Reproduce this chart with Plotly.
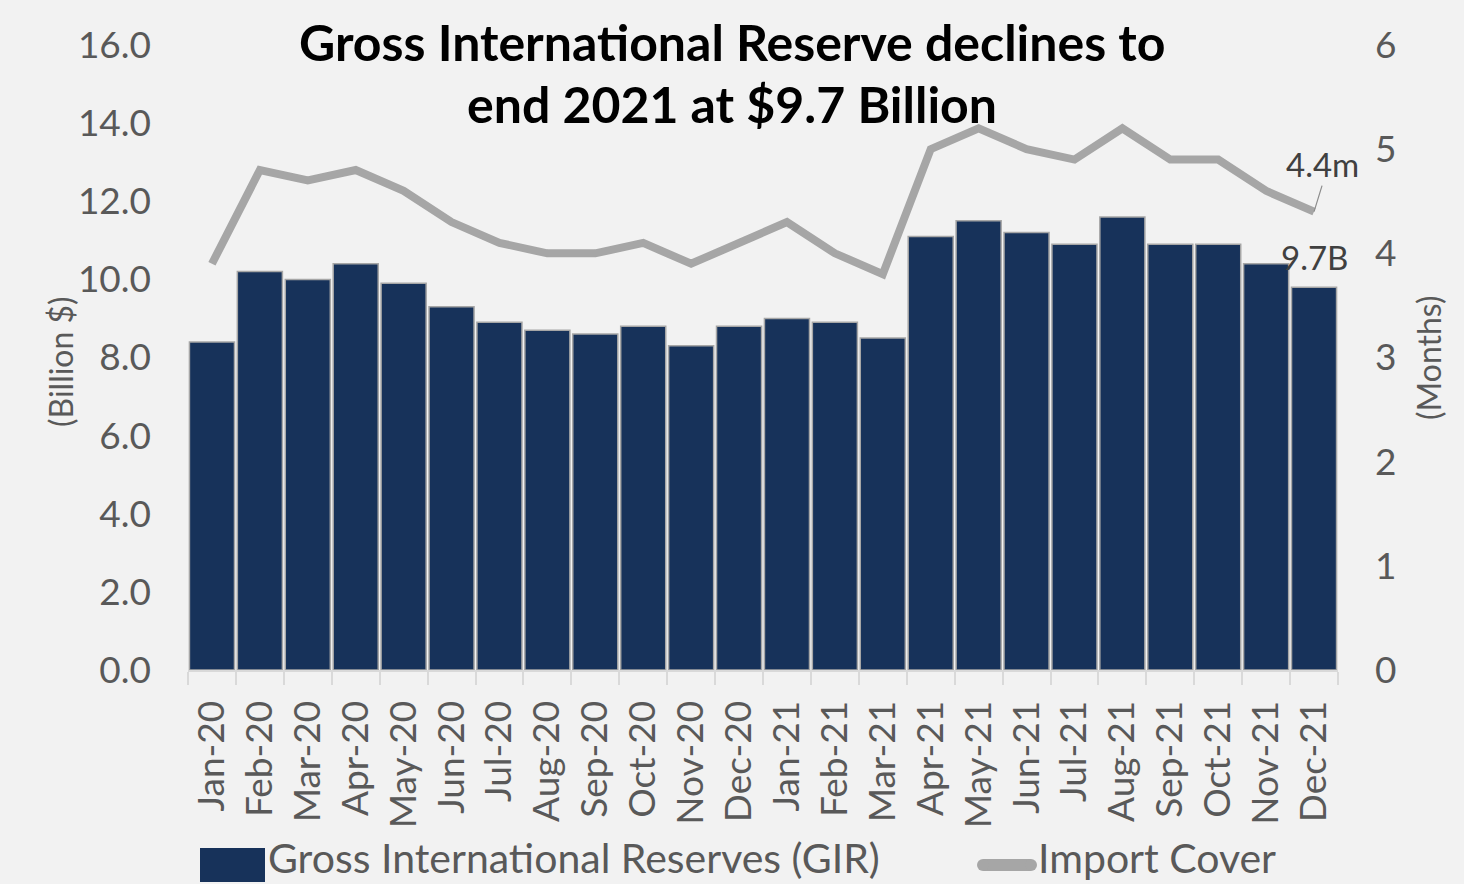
import plotly.graph_objects as go

months = ["Jan-20","Feb-20","Mar-20","Apr-20","May-20","Jun-20","Jul-20","Aug-20","Sep-20","Oct-20","Nov-20","Dec-20",
          "Jan-21","Feb-21","Mar-21","Apr-21","May-21","Jun-21","Jul-21","Aug-21","Sep-21","Oct-21","Nov-21","Dec-21"]
gir = [8.4,10.2,10.0,10.4,9.9,9.3,8.9,8.7,8.6,8.8,8.3,8.8,
       9.0,8.9,8.5,11.1,11.5,11.2,10.9,11.6,10.9,10.9,10.4,9.8]
cover = [3.9,4.8,4.7,4.8,4.6,4.3,4.1,4.0,4.0,4.1,3.9,4.1,
         4.3,4.0,3.8,5.0,5.2,5.0,4.9,5.2,4.9,4.9,4.6,4.4]
left_ticks = [0,2,4,6,8,10,12,14,16]
right_ticks = [0,1,2,3,4,5,6]
gir_name = "Gross International Reserves (GIR)"
cover_name = "Import Cover"

FONT = "Lato"
GREY = "#595959"
NAVY = "#17325A"
LGREY = "#A6A6A6"

# plot area: x 188..1338, y 45..670 (pixels)
L, R, T, B = 188, 1338, 45, 670
W, H = R - L, B - T
def px(x):
    return (x - L) / W
def py(y):
    return (B - y) / H

fig = go.Figure()
fig.add_trace(go.Bar(x=months, y=gir, name=gir_name,
                     marker=dict(color=NAVY, line=dict(color=LGREY, width=1.5)),
                     yaxis="y", showlegend=False))
fig.add_trace(go.Scatter(x=months, y=cover, name=cover_name, mode="lines",
                         line=dict(color=LGREY, width=8), yaxis="y2", showlegend=False))

# data labels
fig.add_annotation(x=months[-1], y=cover[-1], yref="y2", text="4.4m", showarrow=True,
                   arrowhead=0, arrowwidth=1.2, arrowcolor="#8C8C8C", ax=8, ay=-26,
                   xanchor="center", yanchor="bottom",
                   font=dict(family=FONT, size=33, color="#404040"))
fig.add_annotation(x=months[-1], y=gir[-1], text="9.7B", showarrow=False,
                   xshift=0, yshift=8, yanchor="bottom",
                   font=dict(family=FONT, size=33, color="#404040"))

# title
fig.add_annotation(xref="paper", yref="paper", x=px(732), y=py(42), text="<b>Gross International Reserve declines to</b>",
                   showarrow=False, xanchor="center", yanchor="middle",
                   font=dict(family=FONT, size=50, color="#000000"))
fig.add_annotation(xref="paper", yref="paper", x=px(732), y=py(104), text="<b>end 2021 at $9.7 Billion</b>",
                   showarrow=False, xanchor="center", yanchor="middle",
                   font=dict(family=FONT, size=50, color="#000000"))

# axis titles
fig.add_annotation(xref="paper", yref="paper", x=px(60), y=py(362), text="(Billion $)", textangle=-90,
                   showarrow=False, xanchor="center", yanchor="middle",
                   font=dict(family=FONT, size=32, color=GREY))
fig.add_annotation(xref="paper", yref="paper", x=px(1428), y=py(358), text="(Months)", textangle=-90,
                   showarrow=False, xanchor="center", yanchor="middle",
                   font=dict(family=FONT, size=32, color=GREY))

# legend (drawn)
fig.add_shape(type="rect", xref="paper", yref="paper", x0=px(200), x1=px(265), y0=py(882), y1=py(848),
              fillcolor=NAVY, line=dict(width=0), layer="above")
fig.add_annotation(xref="paper", yref="paper", x=px(266), y=py(857), text=gir_name, showarrow=False,
                   xanchor="left", yanchor="middle", font=dict(family=FONT, size=41, color=GREY))
fig.add_shape(type="line", xref="paper", yref="paper", x0=px(983), x1=px(1031), y0=py(865), y1=py(865),
              line=dict(color=LGREY, width=12), layer="above")
fig.add_shape(type="circle", xref="paper", yref="paper", x0=px(977), x1=px(989), y0=py(871), y1=py(859),
              fillcolor=LGREY, line=dict(width=0), layer="above")
fig.add_shape(type="circle", xref="paper", yref="paper", x0=px(1025), x1=px(1037), y0=py(871), y1=py(859),
              fillcolor=LGREY, line=dict(width=0), layer="above")
fig.add_annotation(xref="paper", yref="paper", x=px(1036), y=py(857), text=cover_name, showarrow=False,
                   xanchor="left", yanchor="middle", font=dict(family=FONT, size=41, color=GREY))

fig.update_layout(
    width=1464, height=884,
    paper_bgcolor="#F2F2F2", plot_bgcolor="#F2F2F2",
    margin=dict(l=L, r=1464 - R, t=T, b=884 - B, autoexpand=False),
    bargap=0.06,
    font=dict(family=FONT, color=GREY),
    showlegend=False,
    xaxis=dict(type="category", tickangle=-90, tickfont=dict(size=37, color=GREY),
               showline=True, linecolor="#D9D9D9", linewidth=2, range=[-0.5, len(months) - 0.5],
               ticks="outside", tickson="boundaries", ticklen=13, tickcolor="#D9D9D9", tickwidth=2,
               ticklabelstandoff=14, showgrid=False),
    yaxis=dict(range=[0, 16], tickvals=left_ticks, ticktext=[f"{v:.1f}" for v in left_ticks],
               tickfont=dict(size=37, color=GREY), showgrid=False, zeroline=False,
               ticklabelstandoff=36),
    yaxis2=dict(range=[0, 6], tickvals=right_ticks, overlaying="y", side="right",
                tickfont=dict(size=37, color=GREY), showgrid=False, zeroline=False,
                ticklabelstandoff=36),
)

fig.write_html("out.html")
